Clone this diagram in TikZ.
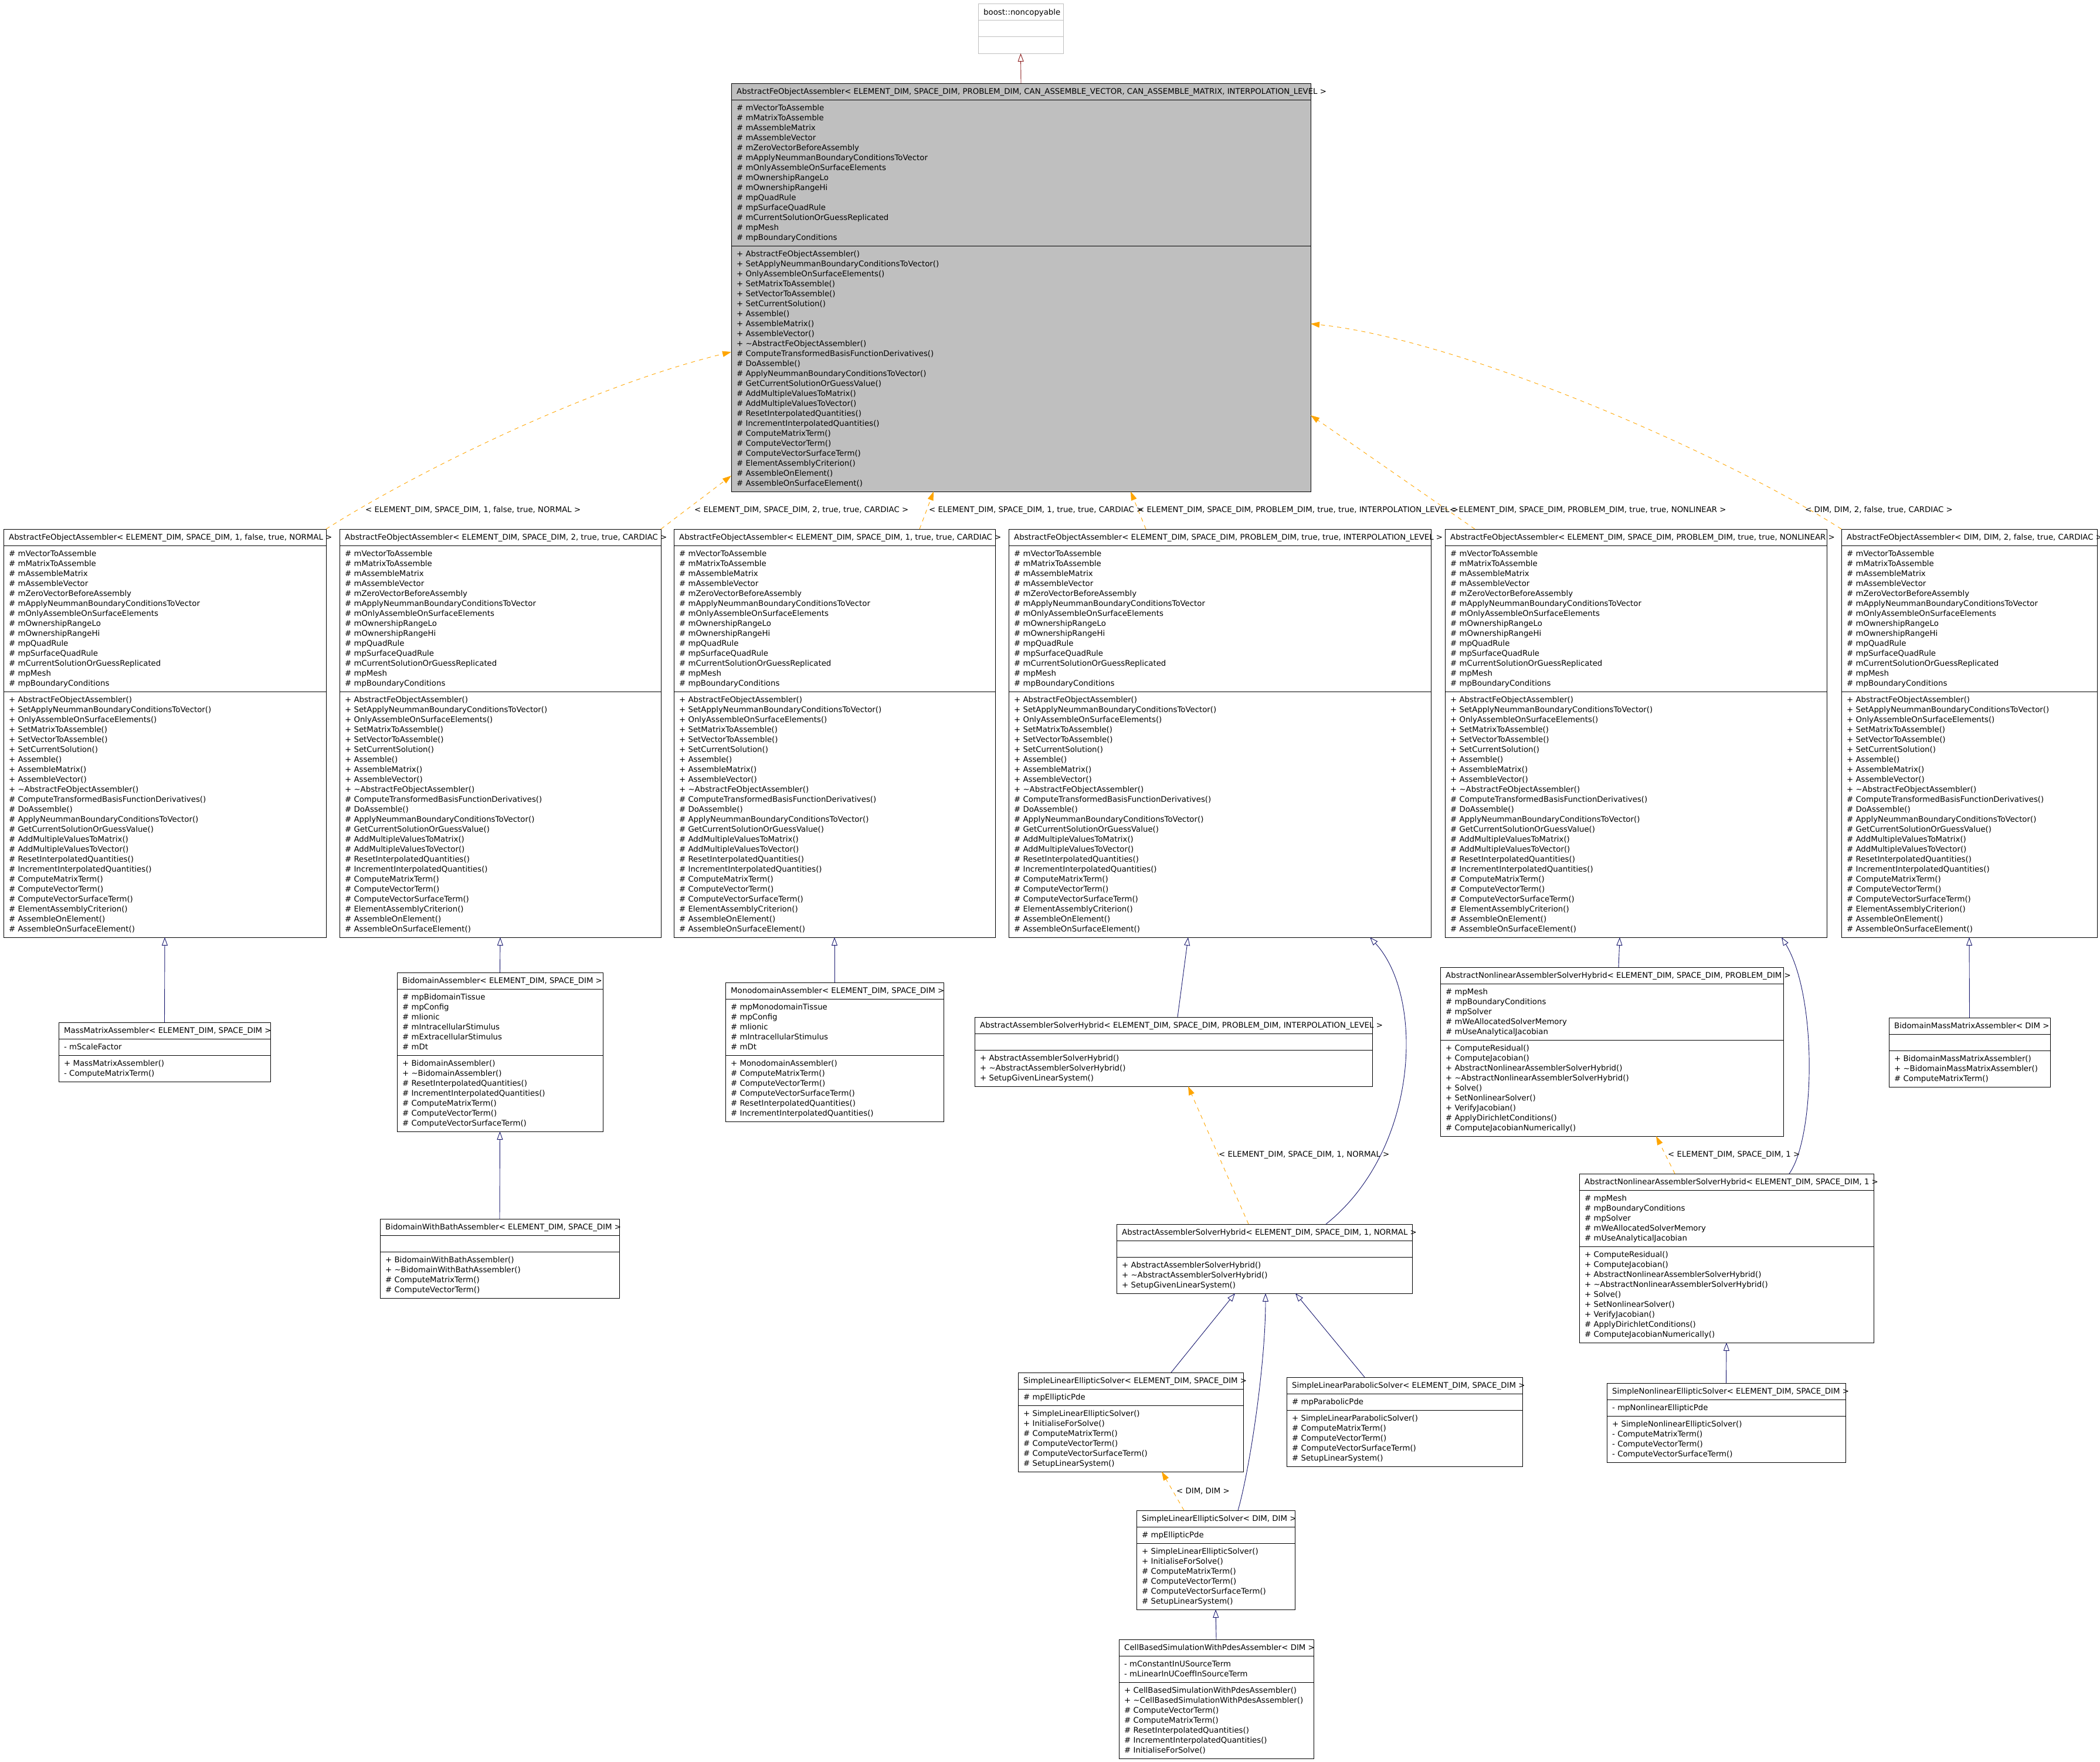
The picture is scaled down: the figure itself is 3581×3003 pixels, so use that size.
\documentclass[tikz,border=0pt]{standalone}
\usepackage{fontspec}
\setmainfont{DejaVu Sans}
\usetikzlibrary{arrows.meta}

\definecolor{grayfill}{HTML}{BFBFBF}
\definecolor{inhblue}{HTML}{191970}
\definecolor{privred}{HTML}{8B1A1A}
\definecolor{tmplorange}{HTML}{FFA500}

% [style] name, left, top, right, title, attributes, operations
\newcommand{\umlclass}[8][]{%
  \xdef\nattr{1}\xdef\nmeth{1}%
  \foreach \itm [count=\ct] in #7 {\xdef\nattr{\ct}}%
  \foreach \itm [count=\ct] in #8 {\xdef\nmeth{\ct}}%
  \pgfmathsetmacro\ya{#4+28}%
  \pgfmathsetmacro\yb{\ya+17*\nattr+11}%
  \pgfmathsetmacro\yc{\yb+17*\nmeth+11}%
  \node[classbox,#1,minimum width=#5-#3,minimum height=\yc-#4] (#2) at (#3,#4) {};
  \draw[classline,#1] (#3,\ya) -- (#5,\ya) (#3,\yb) -- (#5,\yb);
  \node[classtext] at (#3+9,#4+18.5) {#6};
  \foreach \itm [count=\ct from 0] in #7 {\node[classtext] at (#3+9,\ya+18.5+17*\ct) {\itm};}
  \foreach \itm [count=\ct from 0] in #8 {\node[classtext] at (#3+9,\yb+18.5+17*\ct) {\itm};}
}

\def\feattrs{\# mVectorToAssemble,\# mMatrixToAssemble,\# mAssembleMatrix,\# mAssembleVector,
  \# mZeroVectorBeforeAssembly,\# mApplyNeummanBoundaryConditionsToVector,
  \# mOnlyAssembleOnSurfaceElements,\# mOwnershipRangeLo,\# mOwnershipRangeHi,\# mpQuadRule,
  \# mpSurfaceQuadRule,\# mCurrentSolutionOrGuessReplicated,\# mpMesh,\# mpBoundaryConditions}
\def\femeths{+ AbstractFeObjectAssembler(),+ SetApplyNeummanBoundaryConditionsToVector(),
  + OnlyAssembleOnSurfaceElements(),+ SetMatrixToAssemble(),+ SetVectorToAssemble(),
  + SetCurrentSolution(),+ Assemble(),+ AssembleMatrix(),+ AssembleVector(),
  + \textasciitilde AbstractFeObjectAssembler(),\# ComputeTransformedBasisFunctionDerivatives(),
  \# DoAssemble(),\# ApplyNeummanBoundaryConditionsToVector(),\# GetCurrentSolutionOrGuessValue(),
  \# AddMultipleValuesToMatrix(),\# AddMultipleValuesToVector(),\# ResetInterpolatedQuantities(),
  \# IncrementInterpolatedQuantities(),\# ComputeMatrixTerm(),\# ComputeVectorTerm(),
  \# ComputeVectorSurfaceTerm(),\# ElementAssemblyCriterion(),\# AssembleOnElement(),
  \# AssembleOnSurfaceElement()}
\def\hybmeths{+ AbstractAssemblerSolverHybrid(),+ \textasciitilde AbstractAssemblerSolverHybrid(),
  + SetupGivenLinearSystem()}
\def\nlattrs{\# mpMesh,\# mpBoundaryConditions,\# mpSolver,\# mWeAllocatedSolverMemory,
  \# mUseAnalyticalJacobian}
\def\nlmeths{+ ComputeResidual(),+ ComputeJacobian(),+ AbstractNonlinearAssemblerSolverHybrid(),
  + \textasciitilde AbstractNonlinearAssemblerSolverHybrid(),+ Solve(),+ SetNonlinearSolver(),
  + VerifyJacobian(),\# ApplyDirichletConditions(),\# ComputeJacobianNumerically()}
\def\ellmeths{+ SimpleLinearEllipticSolver(),+ InitialiseForSolve(),\# ComputeMatrixTerm(),
  \# ComputeVectorTerm(),\# ComputeVectorSurfaceTerm(),\# SetupLinearSystem()}

\begin{document}
\begin{tikzpicture}[x=1pt,y=-1pt,
    classbox/.style={draw,fill=white,line width=1pt,inner sep=0pt,outer sep=0pt,anchor=north west},
    classline/.style={line width=1pt},
    classtext/.style={anchor=base west,inner sep=0pt,font=\fontsize{13.3}{16}\selectfont},
    inherit/.style={draw=inhblue,line width=0.9pt,-{Triangle[open,length=14pt,width=10pt]}},
    privinherit/.style={inherit,draw=privred},
    tmpl/.style={draw=tmplorange,line width=0.9pt,dash pattern=on 7pt off 7pt,
      -{Triangle[length=15pt,width=10pt,fill=tmplorange]}}
  ]
  \useasboundingbox (0,0) rectangle (3581,3003);

  \umlclass[draw=grayfill]{boost}{1668}{7}{1813}{boost::noncopyable}{{}}{{}}
  \umlclass[fill=grayfill]{main}{1247}{142}{2235}{AbstractFeObjectAssembler< ELEMENT\_DIM, SPACE\_DIM, PROBLEM\_DIM, CAN\_ASSEMBLE\_VECTOR, CAN\_ASSEMBLE\_MATRIX, INTERPOLATION\_LEVEL >}{\feattrs}{\femeths}

  \umlclass{fea}{6}{902}{556}{AbstractFeObjectAssembler< ELEMENT\_DIM, SPACE\_DIM, 1, false, true, NORMAL >}{\feattrs}{\femeths}
  \umlclass{feb}{579}{902}{1127}{AbstractFeObjectAssembler< ELEMENT\_DIM, SPACE\_DIM, 2, true, true, CARDIAC >}{\feattrs}{\femeths}
  \umlclass{fec}{1149}{902}{1697}{AbstractFeObjectAssembler< ELEMENT\_DIM, SPACE\_DIM, 1, true, true, CARDIAC >}{\feattrs}{\femeths}
  \umlclass{fed}{1720}{902}{2440}{AbstractFeObjectAssembler< ELEMENT\_DIM, SPACE\_DIM, PROBLEM\_DIM, true, true, INTERPOLATION\_LEVEL >}{\feattrs}{\femeths}
  \umlclass{fee}{2464}{902}{3115}{AbstractFeObjectAssembler< ELEMENT\_DIM, SPACE\_DIM, PROBLEM\_DIM, true, true, NONLINEAR >}{\feattrs}{\femeths}
  \umlclass{fef}{3140}{902}{3576}{AbstractFeObjectAssembler< DIM, DIM, 2, false, true, CARDIAC >}{\feattrs}{\femeths}

  \umlclass{mass}{100}{1743}{461}{MassMatrixAssembler< ELEMENT\_DIM, SPACE\_DIM >}{{- mScaleFactor}}{{+ MassMatrixAssembler(),- ComputeMatrixTerm()}}
  \umlclass{bido}{677}{1658}{1028}{BidomainAssembler< ELEMENT\_DIM, SPACE\_DIM >}{{\# mpBidomainTissue,\# mpConfig,\# mIionic,\# mIntracellularStimulus,\# mExtracellularStimulus,\# mDt}}{{+ BidomainAssembler(),+ \textasciitilde BidomainAssembler(),\# ResetInterpolatedQuantities(),\# IncrementInterpolatedQuantities(),\# ComputeMatrixTerm(),\# ComputeVectorTerm(),\# ComputeVectorSurfaceTerm()}}
  \umlclass{bath}{648}{2078}{1056}{BidomainWithBathAssembler< ELEMENT\_DIM, SPACE\_DIM >}{{}}{{+ BidomainWithBathAssembler(),+ \textasciitilde BidomainWithBathAssembler(),\# ComputeMatrixTerm(),\# ComputeVectorTerm()}}
  \umlclass{mono}{1237}{1675}{1609}{MonodomainAssembler< ELEMENT\_DIM, SPACE\_DIM >}{{\# mpMonodomainTissue,\# mpConfig,\# mIionic,\# mIntracellularStimulus,\# mDt}}{{+ MonodomainAssembler(),\# ComputeMatrixTerm(),\# ComputeVectorTerm(),\# ComputeVectorSurfaceTerm(),\# ResetInterpolatedQuantities(),\# IncrementInterpolatedQuantities()}}
  \umlclass{aash}{1662}{1734}{2340}{AbstractAssemblerSolverHybrid< ELEMENT\_DIM, SPACE\_DIM, PROBLEM\_DIM, INTERPOLATION\_LEVEL >}{{}}{\hybmeths}
  \umlclass{aashn}{1904}{2087}{2408}{AbstractAssemblerSolverHybrid< ELEMENT\_DIM, SPACE\_DIM, 1, NORMAL >}{{}}{\hybmeths}
  \umlclass{sles}{1736}{2340}{2120}{SimpleLinearEllipticSolver< ELEMENT\_DIM, SPACE\_DIM >}{{\# mpEllipticPde}}{\ellmeths}
  \umlclass{slps}{2194}{2348}{2596}{SimpleLinearParabolicSolver< ELEMENT\_DIM, SPACE\_DIM >}{{\# mpParabolicPde}}{{+ SimpleLinearParabolicSolver(),\# ComputeMatrixTerm(),\# ComputeVectorTerm(),\# ComputeVectorSurfaceTerm(),\# SetupLinearSystem()}}
  \umlclass{sledd}{1938}{2575}{2208}{SimpleLinearEllipticSolver< DIM, DIM >}{{\# mpEllipticPde}}{\ellmeths}
  \umlclass{cbs}{1908}{2795}{2240}{CellBasedSimulationWithPdesAssembler< DIM >}{{- mConstantInUSourceTerm,- mLinearInUCoeffInSourceTerm}}{{+ CellBasedSimulationWithPdesAssembler(),+ \textasciitilde CellBasedSimulationWithPdesAssembler(),\# ComputeVectorTerm(),\# ComputeMatrixTerm(),\# ResetInterpolatedQuantities(),\# IncrementInterpolatedQuantities(),\# InitialiseForSolve()}}
  \umlclass{anash}{2456}{1649}{3041}{AbstractNonlinearAssemblerSolverHybrid< ELEMENT\_DIM, SPACE\_DIM, PROBLEM\_DIM >}{\nlattrs}{\nlmeths}
  \umlclass{anashb}{2693}{2001}{3195}{AbstractNonlinearAssemblerSolverHybrid< ELEMENT\_DIM, SPACE\_DIM, 1 >}{\nlattrs}{\nlmeths}
  \umlclass{snes}{2740}{2358}{3147}{SimpleNonlinearEllipticSolver< ELEMENT\_DIM, SPACE\_DIM >}{{- mpNonlinearEllipticPde}}{{+ SimpleNonlinearEllipticSolver(),- ComputeMatrixTerm(),- ComputeVectorTerm(),- ComputeVectorSurfaceTerm()}}
  \umlclass{bmma}{3221}{1735}{3496}{BidomainMassMatrixAssembler< DIM >}{{}}{{+ BidomainMassMatrixAssembler(),+ \textasciitilde BidomainMassMatrixAssembler(),\# ComputeMatrixTerm()}}

  \draw[privinherit] (main.north) -- (boost.south);
  \draw[inherit] (mass.north) -- (fea.south);
  \draw[inherit] (bido.north) -- (feb.south);
  \draw[inherit] (bath.north) -- (bido.south);
  \draw[inherit] (mono.north) -- (fec.south);
  \draw[inherit] ([xshift=346pt]aash.north west) -- ([xshift=306pt]fed.south west);
  \draw[inherit] ([xshift=357pt]aashn.north west) .. controls (2420,1960) and (2430,1700) .. ([xshift=616pt]fed.south west);
  \draw[inherit] ([xshift=261pt]sles.north west) -- ([xshift=202pt]aashn.south west);
  \draw[inherit] ([xshift=133pt]slps.north west) -- ([xshift=305pt]aashn.south west);
  \draw[inherit] ([xshift=173pt]sledd.north west) .. controls (2130,2510) and (2158,2330) .. ([xshift=254pt]aashn.south west);
  \draw[inherit] (cbs.north) -- (sledd.south);
  \draw[inherit] ([xshift=304pt]anash.north west) -- ([xshift=298pt]fee.south west);
  \draw[inherit] ([xshift=358pt]anashb.north west) .. controls (3095,1940) and (3100,1700) .. ([xshift=574pt]fee.south west);
  \draw[inherit] (snes.north) -- (anashb.south);
  \draw[inherit] (bmma.north) -- (fef.south);

  \draw[tmpl] (fea.north east) .. controls (700,810) and (1000,660) .. ([yshift=-458pt]main.north west);
  \draw[tmpl] (feb.north east) -- ([yshift=-669pt]main.north west);
  \draw[tmpl] ([xshift=419pt]fec.north west) -- ([xshift=345pt]main.south west);
  \draw[tmpl] ([xshift=234pt]fed.north west) -- ([xshift=681pt]main.south west);
  \draw[tmpl] ([xshift=51pt]fee.north west) -- ([yshift=-566pt]main.north east);
  \draw[tmpl] (fef.north west) .. controls (2950,780) and (2500,580) .. ([yshift=-410pt]main.north east);
  \draw[tmpl] ([xshift=225pt]aashn.north west) -- ([xshift=364pt]aash.south west);
  \draw[tmpl] ([xshift=163pt]anashb.north west) -- ([xshift=368pt]anash.south west);
  \draw[tmpl] ([xshift=81pt]sledd.north west) -- ([xshift=245pt]sles.south west);

  \node[classtext] (lfea) at (623,873) {< ELEMENT\_DIM, SPACE\_DIM, 1, false, true, NORMAL >};
  \node[classtext] (lfeb) at (1184,873) {< ELEMENT\_DIM, SPACE\_DIM, 2, true, true, CARDIAC >};
  \node[classtext] (lfec) at (1584,873) {< ELEMENT\_DIM, SPACE\_DIM, 1, true, true, CARDIAC >};
  \node[classtext] (lfed) at (1940,873) {< ELEMENT\_DIM, SPACE\_DIM, PROBLEM\_DIM, true, true, INTERPOLATION\_LEVEL >};
  \node[classtext] (lfee) at (2472,873) {< ELEMENT\_DIM, SPACE\_DIM, PROBLEM\_DIM, true, true, NONLINEAR >};
  \node[classtext] (lfef) at (3078,873) {< DIM, DIM, 2, false, true, CARDIAC >};
  \node[classtext] (laashn) at (2078,1972) {< ELEMENT\_DIM, SPACE\_DIM, 1, NORMAL >};
  \node[classtext] (lanashb) at (2844,1972) {< ELEMENT\_DIM, SPACE\_DIM, 1 >};
  \node[classtext] (lsledd) at (2006,2546) {< DIM, DIM >};
\end{tikzpicture}
\end{document}
